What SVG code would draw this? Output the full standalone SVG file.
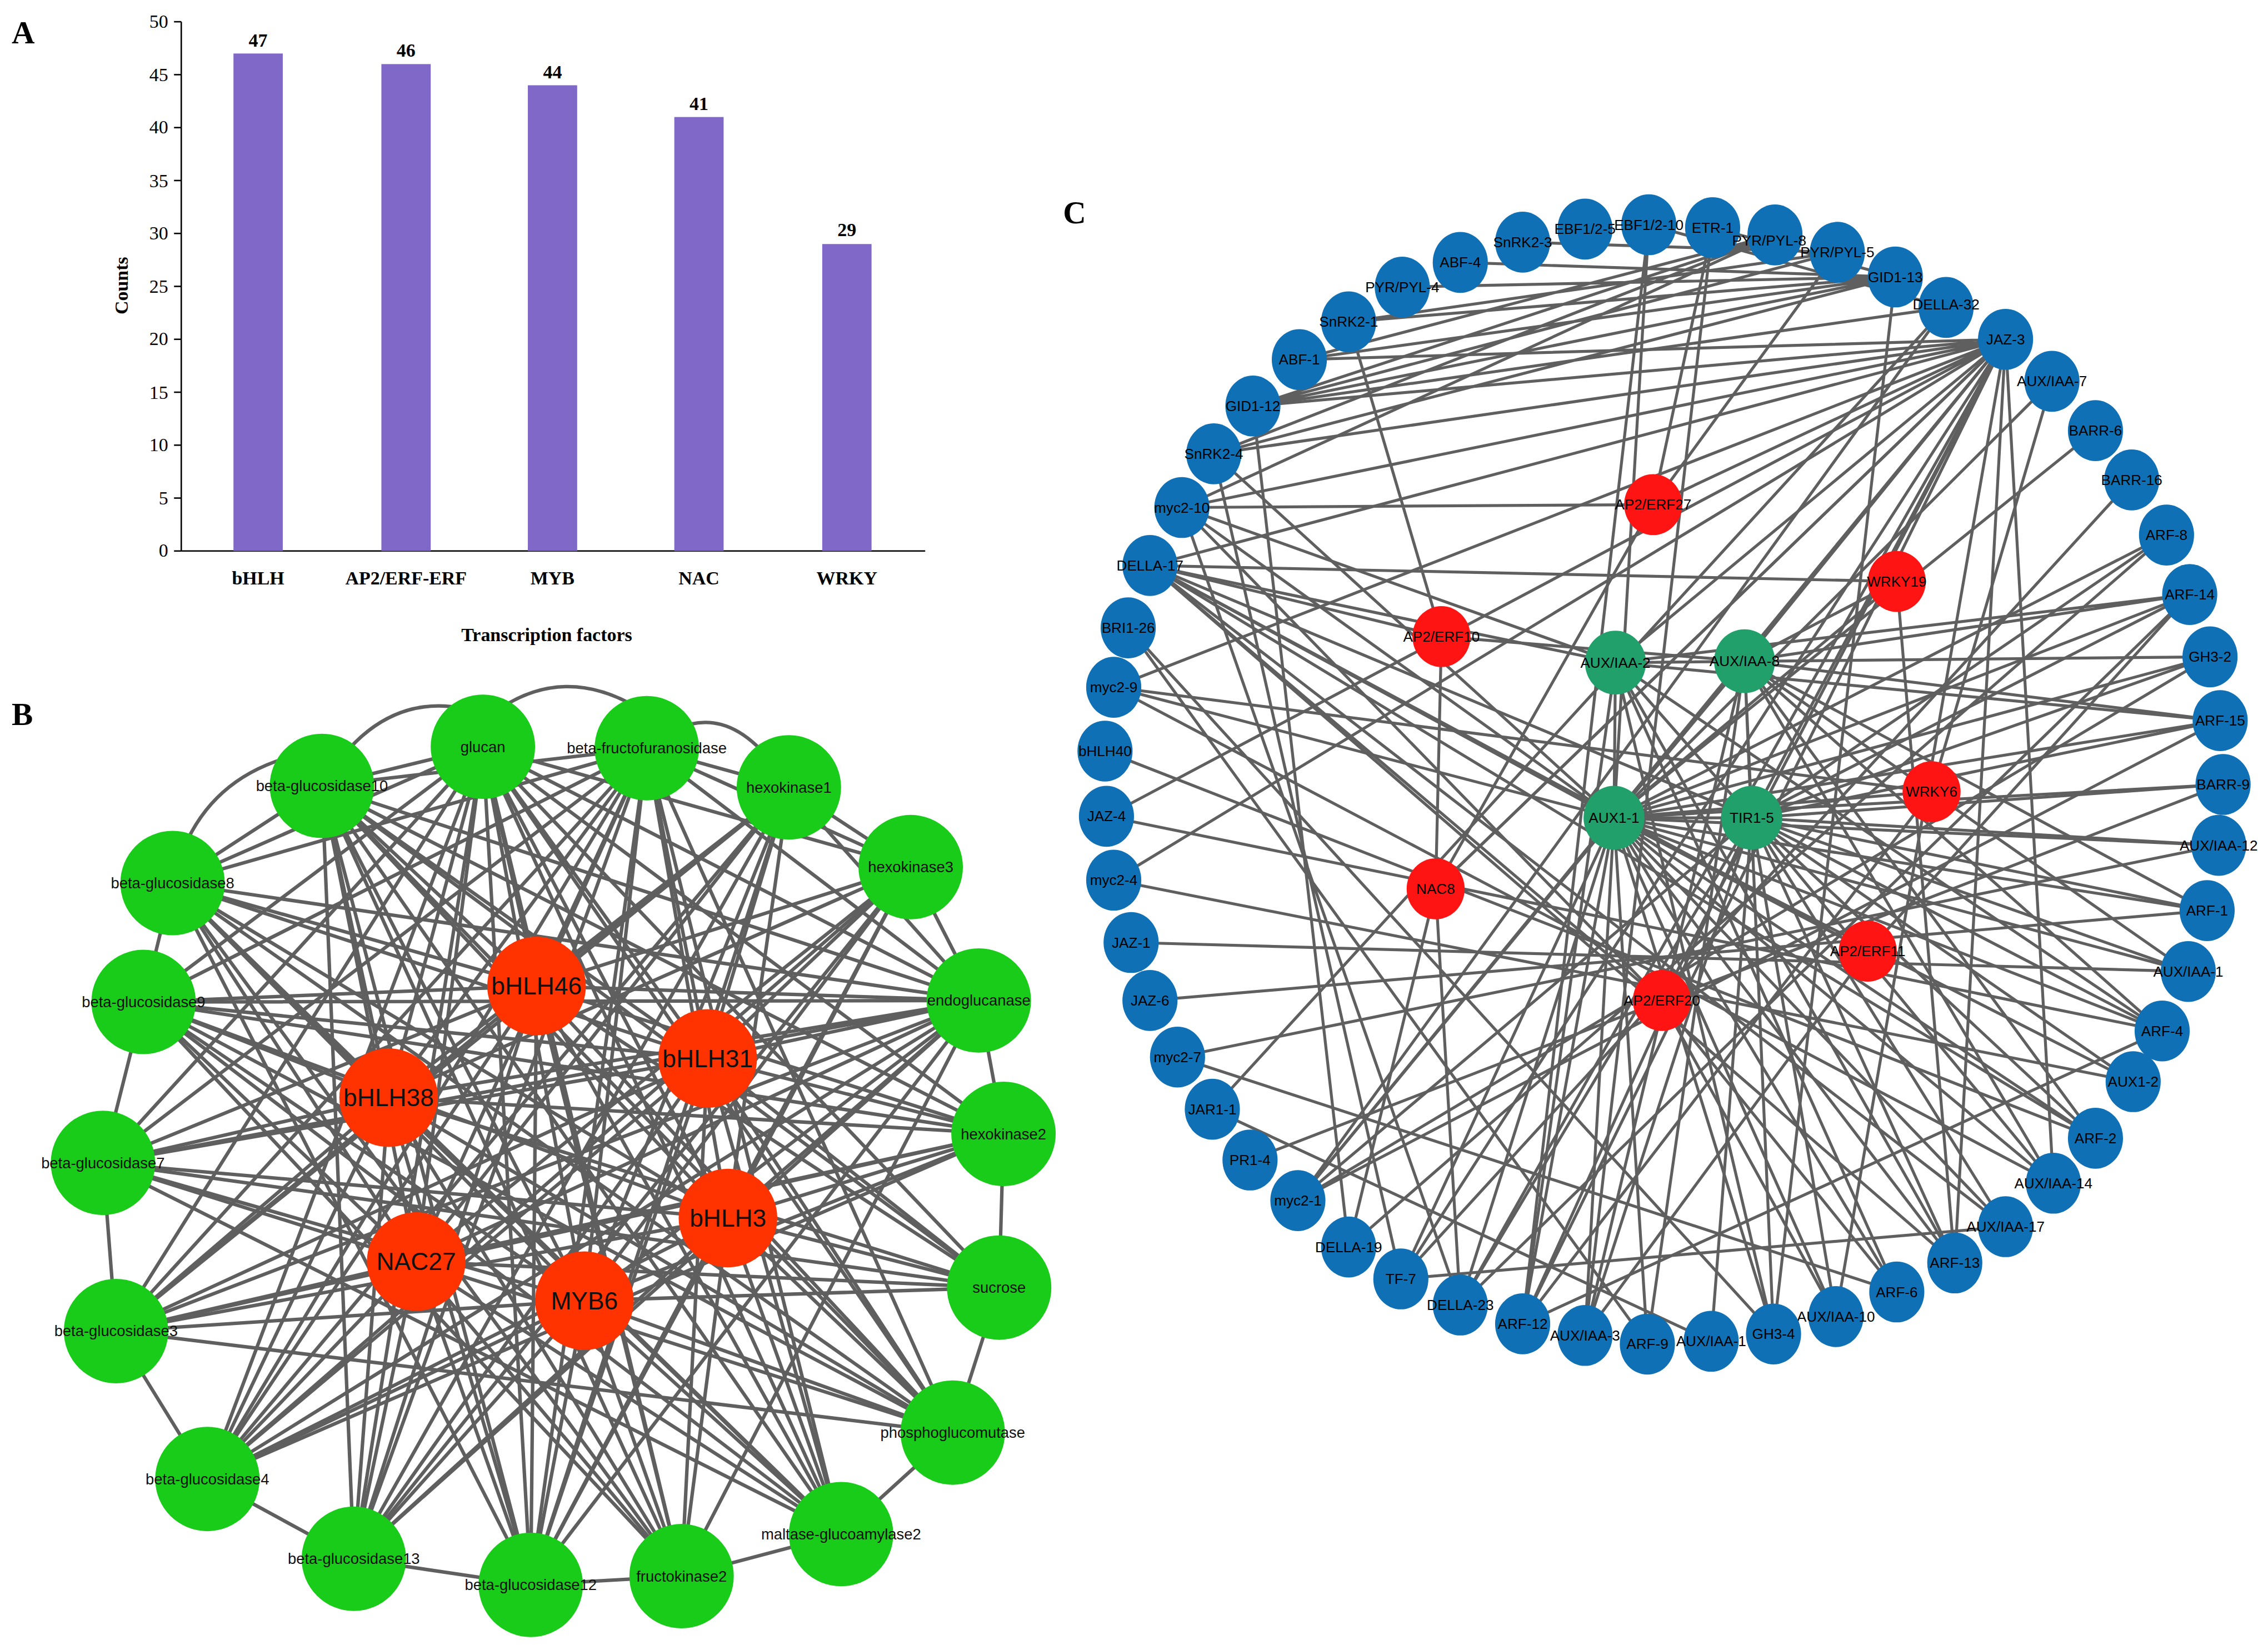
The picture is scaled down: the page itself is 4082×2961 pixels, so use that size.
<svg xmlns="http://www.w3.org/2000/svg" width="4082" height="2961" viewBox="0 0 4082 2961">
<style>
.t{font-family:"Liberation Serif",serif;font-size:13px;fill:#000}
.tb{font-family:"Liberation Serif",serif;font-size:13px;font-weight:bold;fill:#000}
.pl{font-family:"Liberation Serif",serif;font-size:22px;font-weight:bold;fill:#000}
.e{stroke:#5f5f5f;stroke-width:2.4;fill:none}
.ec{stroke:#5f5f5f;stroke-width:2;fill:none}
.gn{fill:#19cc19}
.rn{fill:#ff3300}
.bn{fill:#1070b5}
.cn{fill:#22a06b}
.cr{fill:#ff1414}
.lg{font-family:"Liberation Sans",Arial,sans-serif;font-size:10.5px;fill:#111;text-anchor:middle;dominant-baseline:central}
.lr{font-family:"Liberation Sans",Arial,sans-serif;font-size:17px;fill:#111;text-anchor:middle;dominant-baseline:central}
.lc{font-family:"Liberation Sans",Arial,sans-serif;font-size:10px;fill:#000;text-anchor:middle;dominant-baseline:central}
</style>
<rect width="4082" height="2961" fill="#fff"/>
<g transform="scale(2.61)">
<g id="panelA">
<text class="pl" x="8" y="30">A</text>
<line x1="125" y1="15" x2="125" y2="380" stroke="#000" stroke-width="1"/>
<line x1="125" y1="380" x2="638" y2="380" stroke="#000" stroke-width="1"/>
<g stroke="#000" stroke-width="1">
<line x1="120" y1="15" x2="125" y2="15"/><line x1="120" y1="51.5" x2="125" y2="51.5"/><line x1="120" y1="88" x2="125" y2="88"/><line x1="120" y1="124.5" x2="125" y2="124.5"/><line x1="120" y1="161" x2="125" y2="161"/><line x1="120" y1="197.5" x2="125" y2="197.5"/><line x1="120" y1="234" x2="125" y2="234"/><line x1="120" y1="270.5" x2="125" y2="270.5"/><line x1="120" y1="307" x2="125" y2="307"/><line x1="120" y1="343.5" x2="125" y2="343.5"/><line x1="120" y1="380" x2="125" y2="380"/>
</g>
<g class="t" text-anchor="end">
<text x="116" y="19">50</text><text x="116" y="56">45</text><text x="116" y="92">40</text><text x="116" y="129">35</text><text x="116" y="165">30</text><text x="116" y="202">25</text><text x="116" y="238">20</text><text x="116" y="275">15</text><text x="116" y="311">10</text><text x="116" y="348">5</text><text x="116" y="384">0</text>
</g>
<g fill="#8068c8">
<rect x="161" y="36.9" width="34" height="343.1"/>
<rect x="263" y="44.2" width="34" height="335.8"/>
<rect x="364" y="58.8" width="34" height="321.2"/>
<rect x="465" y="80.7" width="34" height="299.3"/>
<rect x="567" y="168.3" width="34" height="211.7"/>
</g>
<g class="tb" text-anchor="middle">
<text x="178" y="32">47</text><text x="280" y="39">46</text><text x="381" y="54">44</text><text x="482" y="76">41</text><text x="584" y="163">29</text>
<text x="178" y="403">bHLH</text><text x="280" y="403">AP2/ERF-ERF</text><text x="381" y="403">MYB</text><text x="482" y="403">NAC</text><text x="584" y="403">WRKY</text>
<text x="377" y="442">Transcription factors</text>
<text transform="translate(88,197) rotate(-90)">Counts</text>
</g>
</g>
<g id="panelB">
<text class="pl" x="8" y="500">B</text>
<g id="edgesB">
<path class="e" d="M222,542 Q265,470 333,492 M340,492 Q390,455 446,492 M119,609 Q135,540 200,522 M446,516 Q500,470 544,543"/>
<path class="e" d="M370,680 L333,515 M370,680 L446,516 M370,680 L222,542 M370,680 L544,543 M370,680 L119,609 M370,680 L628,598 M370,680 L99,691 M370,680 L675,690 M370,680 L71,802 M370,680 L692,782 M370,680 L80,918 M370,680 L689,888 M370,680 L143,1020 M370,680 L657,988 M370,680 L244,1075 M370,680 L366,1093 M370,680 L470,1087 M370,680 L580,1058"/>
<path class="e" d="M488,730 L333,515 M488,730 L446,516 M488,730 L222,542 M488,730 L544,543 M488,730 L119,609 M488,730 L628,598 M488,730 L99,691 M488,730 L675,690 M488,730 L71,802 M488,730 L692,782 M488,730 L80,918 M488,730 L689,888 M488,730 L143,1020 M488,730 L657,988 M488,730 L244,1075 M488,730 L366,1093 M488,730 L470,1087 M488,730 L580,1058"/>
<path class="e" d="M268,757 L333,515 M268,757 L446,516 M268,757 L222,542 M268,757 L544,543 M268,757 L119,609 M268,757 L628,598 M268,757 L99,691 M268,757 L675,690 M268,757 L71,802 M268,757 L692,782 M268,757 L80,918 M268,757 L689,888 M268,757 L143,1020 M268,757 L657,988 M268,757 L244,1075 M268,757 L366,1093 M268,757 L470,1087 M268,757 L580,1058"/>
<path class="e" d="M502,840 L333,515 M502,840 L446,516 M502,840 L222,542 M502,840 L544,543 M502,840 L119,609 M502,840 L628,598 M502,840 L99,691 M502,840 L675,690 M502,840 L71,802 M502,840 L692,782 M502,840 L80,918 M502,840 L689,888 M502,840 L143,1020 M502,840 L657,988 M502,840 L244,1075 M502,840 L366,1093 M502,840 L470,1087 M502,840 L580,1058"/>
<path class="e" d="M287,870 L333,515 M287,870 L446,516 M287,870 L222,542 M287,870 L544,543 M287,870 L119,609 M287,870 L628,598 M287,870 L99,691 M287,870 L675,690 M287,870 L71,802 M287,870 L692,782 M287,870 L80,918 M287,870 L689,888 M287,870 L143,1020 M287,870 L657,988 M287,870 L244,1075 M287,870 L366,1093 M287,870 L470,1087 M287,870 L580,1058"/>
<path class="e" d="M403,897 L333,515 M403,897 L446,516 M403,897 L222,542 M403,897 L544,543 M403,897 L119,609 M403,897 L628,598 M403,897 L99,691 M403,897 L675,690 M403,897 L71,802 M403,897 L692,782 M403,897 L80,918 M403,897 L689,888 M403,897 L143,1020 M403,897 L657,988 M403,897 L244,1075 M403,897 L366,1093 M403,897 L470,1087 M403,897 L580,1058"/>
<path class="e" stroke-width="3.5" d="M675,690 L333,515 M675,690 L446,516 M675,690 L222,542 M675,690 L119,609 M675,690 L99,691 M675,690 L71,802 M675,690 L80,918 M675,690 L143,1020 M675,690 L244,1075 M675,690 L366,1093 M675,690 L470,1087 M675,690 L544,543"/>
<path class="e" d="M333,515 L119,609 M333,515 L99,691 M333,515 L71,802 M333,515 L80,918 M333,515 L143,1020 M333,515 L244,1075 M333,515 L366,1093 M333,515 L470,1087 M333,515 L580,1058 M333,515 L657,988 M333,515 L689,888 M333,515 L692,782 M333,515 L628,598 M446,516 L222,542 M446,516 L119,609 M446,516 L99,691 M446,516 L71,802 M446,516 L80,918 M446,516 L143,1020 M446,516 L244,1075 M446,516 L366,1093 M446,516 L580,1058 M446,516 L657,988 M446,516 L628,598 M222,542 L244,1075 M222,542 L366,1093 M222,542 L470,1087 M222,542 L580,1058 M222,542 L657,988 M222,542 L689,888 M222,542 L692,782 M544,543 L143,1020 M544,543 L244,1075 M544,543 L80,918 M544,543 L366,1093 M119,609 L580,1058 M119,609 L657,988 M119,609 L366,1093 M99,691 L580,1058 M99,691 L657,988 M99,691 L692,782 M71,802 L580,1058 M71,802 L689,888 M80,918 L692,782 M80,918 L657,988 M143,1020 L628,598 M143,1020 L692,782 M244,1075 L628,598 M366,1093 L628,598 M470,1087 L119,609 M470,1087 L99,691"/>
<path class="e" d="M222,542 L119,609 L99,691 L71,802 L80,918 L143,1020 L244,1075 L366,1093 L470,1087 L580,1058 L657,988 L689,888 L692,782 L675,690 L628,598 L544,543 M333,515 L222,542 M446,516 L544,543"/>
</g>
<g id="nB_glucan"><circle class="gn" cx="333" cy="515" r="36"/><text class="lg" x="333" y="515">glucan</text></g>
<g id="nB_bfruct"><circle class="gn" cx="446" cy="516" r="36"/><text class="lg" x="446" y="516">beta-fructofuranosidase</text></g>
<g id="nB_bg10"><circle class="gn" cx="222" cy="542" r="36"/><text class="lg" x="222" y="542">beta-glucosidase10</text></g>
<g id="nB_hk1"><circle class="gn" cx="544" cy="543" r="36"/><text class="lg" x="544" y="543">hexokinase1</text></g>
<g id="nB_bg8"><circle class="gn" cx="119" cy="609" r="36"/><text class="lg" x="119" y="609">beta-glucosidase8</text></g>
<g id="nB_hk3"><circle class="gn" cx="628" cy="598" r="36"/><text class="lg" x="628" y="598">hexokinase3</text></g>
<g id="nB_bg9"><circle class="gn" cx="99" cy="691" r="36"/><text class="lg" x="99" y="691">beta-glucosidase9</text></g>
<g id="nB_endo"><circle class="gn" cx="675" cy="690" r="36"/><text class="lg" x="675" y="690">endoglucanase</text></g>
<g id="nB_bg7"><circle class="gn" cx="71" cy="802" r="36"/><text class="lg" x="71" y="802">beta-glucosidase7</text></g>
<g id="nB_hk2"><circle class="gn" cx="692" cy="782" r="36"/><text class="lg" x="692" y="782">hexokinase2</text></g>
<g id="nB_bg3"><circle class="gn" cx="80" cy="918" r="36"/><text class="lg" x="80" y="918">beta-glucosidase3</text></g>
<g id="nB_sucrose"><circle class="gn" cx="689" cy="888" r="36"/><text class="lg" x="689" y="888">sucrose</text></g>
<g id="nB_bg4"><circle class="gn" cx="143" cy="1020" r="36"/><text class="lg" x="143" y="1020">beta-glucosidase4</text></g>
<g id="nB_pgm"><circle class="gn" cx="657" cy="988" r="36"/><text class="lg" x="657" y="988">phosphoglucomutase</text></g>
<g id="nB_bg13"><circle class="gn" cx="244" cy="1075" r="36"/><text class="lg" x="244" y="1075">beta-glucosidase13</text></g>
<g id="nB_bg12"><circle class="gn" cx="366" cy="1093" r="36"/><text class="lg" x="366" y="1093">beta-glucosidase12</text></g>
<g id="nB_fk2"><circle class="gn" cx="470" cy="1087" r="36"/><text class="lg" x="470" y="1087">fructokinase2</text></g>
<g id="nB_mga2"><circle class="gn" cx="580" cy="1058" r="36"/><text class="lg" x="580" y="1058">maltase-glucoamylase2</text></g>
<g id="nB_bHLH46"><circle class="rn" cx="370" cy="680" r="34"/><text class="lr" x="370" y="680">bHLH46</text></g>
<g id="nB_bHLH31"><circle class="rn" cx="488" cy="730" r="34"/><text class="lr" x="488" y="730">bHLH31</text></g>
<g id="nB_bHLH38"><circle class="rn" cx="268" cy="757" r="34"/><text class="lr" x="268" y="757">bHLH38</text></g>
<g id="nB_bHLH3"><circle class="rn" cx="502" cy="840" r="34"/><text class="lr" x="502" y="840">bHLH3</text></g>
<g id="nB_NAC27"><circle class="rn" cx="287" cy="870" r="34"/><text class="lr" x="287" y="870">NAC27</text></g>
<g id="nB_MYB6"><circle class="rn" cx="403" cy="897" r="34"/><text class="lr" x="403" y="897">MYB6</text></g>
</g>
<g id="panelC">
<text class="pl" x="733" y="154">C</text>
<g id="edgesC">
<path class="ec" d="M1113,564 L1383,234 M1113,564 L1415,263 M1113,564 L1445,297 M1113,564 L1494,369 M1113,564 L1510,410 M1113,564 L1524,453 M1113,564 L1531,497 M1113,564 L1533,541 M1113,564 L1530,583 M1113,564 L1522,628 M1113,564 L1509,670 M1113,564 L1491,711 M1113,564 L1471,746 M1113,564 L1445,785 M1113,564 L1416,816 M1113,564 L1383,846 M1113,564 L1348,871 M1113,564 L1308,891 M1113,564 L1266,908 M1113,564 L1223,920 M1113,564 L1136,927 M1113,564 L1093,921 M1113,564 L1050,913 M1113,564 L1007,900 M1113,564 L966,882 M1113,564 L895,828 M1113,564 L793,390 M1113,564 L837,313 M1113,564 L815,350 M1113,564 L768,474"/>
<path class="ec" d="M1208,564 L1383,234 M1208,564 L1494,369 M1208,564 L1510,410 M1208,564 L1524,453 M1208,564 L1531,497 M1208,564 L1533,541 M1208,564 L1530,583 M1208,564 L1522,628 M1208,564 L1509,670 M1208,564 L1491,711 M1208,564 L1471,746 M1208,564 L1445,785 M1208,564 L1416,816 M1208,564 L1383,846 M1208,564 L1348,871 M1208,564 L1266,908 M1208,564 L1180,925 M1208,564 L1093,921 M1208,564 L1050,913 M1208,564 L1007,900 M1208,564 L895,828 M1208,564 L793,390 M1208,564 L1113,564"/>
<path class="ec" d="M1114,457 L1383,234 M1114,457 L1510,410 M1114,457 L1524,453 M1114,457 L1531,497 M1114,457 L1348,871 M1114,457 L1308,891 M1114,457 L1050,913 M1114,457 L793,390 M1114,457 L815,350 M1114,457 L1113,564 M1114,457 L1208,564 M1114,457 L1223,920 M1114,457 L1491,711 M1203,456 L1383,234 M1203,456 L1510,410 M1203,456 L1531,497 M1203,456 L1522,628 M1203,456 L1491,711 M1203,456 L1445,785 M1203,456 L1416,816 M1203,456 L1223,920 M1203,456 L1093,921 M1203,456 L1113,564 M1203,456 L1208,564 M1203,456 L1136,927 M1203,456 L1509,670"/>
<path class="ec" d="M1383,234 L815,350 M1383,234 L837,313 M1383,234 L864,280 M1383,234 L793,390 M1383,234 L768,474 M1383,234 L763,563 M1383,234 L768,607 M1383,234 L1140,348 M1383,234 L895,828 M1383,234 L966,882 M1383,234 L896,248 M1383,234 L990,613 M1383,234 L1007,900 M1383,234 L1050,913 M1383,234 L1146,690 M1383,234 L1266,908 M1383,234 L1348,871 M1383,234 L1416,816"/>
<path class="ec" d="M1307,191 L896,248 M1307,191 L930,222 M1307,191 L967,198 M1307,191 L837,313 M1307,191 L864,280 M1307,191 L1007,181 M1224,162 L896,248 M1224,162 L837,313 M1224,162 L864,280 M1267,174 L930,222 M1267,174 L864,280 M1181,157 L1307,191 M1137,155 L1342,212 M1050,167 L1267,174 M1342,212 L864,280 M1342,212 L895,828 M1342,212 L836,765 M1137,155 L1113,564 M1181,157 L1093,921 M1137,155 L1050,913 M1267,174 L1140,348 M1307,191 L1223,920 M1224,162 L815,350"/>
<path class="ec" d="M1140,348 L815,350 M1140,348 L1181,157 M1140,348 L990,613 M994,439 L930,222 M994,439 L793,390 M994,439 L1203,456 M994,439 L990,613 M990,613 L1383,234 M990,613 L1007,900 M990,613 L930,860 M1146,690 L815,350 M1146,690 L793,390 M1146,690 L1308,891 M1146,690 L1266,908 M1308,401 L793,390 M1308,401 L1348,871 M1308,401 L1203,456 M1308,401 L1113,564 M1332,546 L1113,564 M1332,546 L768,474 M1332,546 L1050,913 M1332,546 L1415,263 M1288,656 L1093,921 M1288,656 L1510,410 M1288,656 L793,390 M1288,656 L1113,564"/>
<path class="ec" d="M793,390 L1348,871 M793,390 L1445,785 M793,390 L1383,846 M768,474 L1416,816 M778,433 L1223,920 M762,518 L1445,785 M763,563 L1491,711 M768,607 L1471,746 M780,650 L1509,670 M793,690 L1522,628 M812,729 L1530,583 M862,800 L1533,541 M895,828 L1531,497 M895,828 L1524,453 M930,860 L1494,369 M966,882 L1470,331 M1007,900 L1510,410 M836,765 L1180,925 M812,729 L1308,891 M778,433 L1136,927 M815,350 L1007,900 M837,313 L966,882 M864,280 L930,860 M1050,913 L1491,711 M966,882 L1383,846"/>
</g>
<g id="nC_EBF1_2_10"><ellipse class="bn" cx="1137" cy="155" rx="19" ry="21"/><text class="lc" x="1137" y="155">EBF1/2-10</text></g>
<g id="nC_ETR_1"><ellipse class="bn" cx="1181" cy="157" rx="19" ry="21"/><text class="lc" x="1181" y="157">ETR-1</text></g>
<g id="nC_PYR_PYL_8"><ellipse class="bn" cx="1224" cy="162" rx="19" ry="21"/><text class="lc" x="1220" y="166">PYR/PYL-8</text></g>
<g id="nC_PYR_PYL_5"><ellipse class="bn" cx="1267" cy="174" rx="19" ry="21"/><text class="lc" x="1267" y="174">PYR/PYL-5</text></g>
<g id="nC_GID1_13"><ellipse class="bn" cx="1307" cy="191" rx="19" ry="21"/><text class="lc" x="1307" y="191">GID1-13</text></g>
<g id="nC_DELLA_32"><ellipse class="bn" cx="1342" cy="212" rx="19" ry="21"/><text class="lc" x="1342" y="210">DELLA-32</text></g>
<g id="nC_JAZ_3"><ellipse class="bn" cx="1383" cy="234" rx="19" ry="21"/><text class="lc" x="1383" y="234">JAZ-3</text></g>
<g id="nC_AUX_IAA_7"><ellipse class="bn" cx="1415" cy="263" rx="19" ry="21"/><text class="lc" x="1415" y="263">AUX/IAA-7</text></g>
<g id="nC_BARR_6"><ellipse class="bn" cx="1445" cy="297" rx="19" ry="21"/><text class="lc" x="1445" y="297">BARR-6</text></g>
<g id="nC_BARR_16"><ellipse class="bn" cx="1470" cy="331" rx="19" ry="21"/><text class="lc" x="1470" y="331">BARR-16</text></g>
<g id="nC_ARF_8"><ellipse class="bn" cx="1494" cy="369" rx="19" ry="21"/><text class="lc" x="1494" y="369">ARF-8</text></g>
<g id="nC_ARF_14"><ellipse class="bn" cx="1510" cy="410" rx="19" ry="21"/><text class="lc" x="1510" y="410">ARF-14</text></g>
<g id="nC_GH3_2"><ellipse class="bn" cx="1524" cy="453" rx="19" ry="21"/><text class="lc" x="1524" y="453">GH3-2</text></g>
<g id="nC_ARF_15"><ellipse class="bn" cx="1531" cy="497" rx="19" ry="21"/><text class="lc" x="1531" y="497">ARF-15</text></g>
<g id="nC_BARR_9"><ellipse class="bn" cx="1533" cy="541" rx="19" ry="21"/><text class="lc" x="1533" y="541">BARR-9</text></g>
<g id="nC_AUX_IAA_12"><ellipse class="bn" cx="1530" cy="583" rx="19" ry="21"/><text class="lc" x="1530" y="583">AUX/IAA-12</text></g>
<g id="nC_ARF_1"><ellipse class="bn" cx="1522" cy="628" rx="19" ry="21"/><text class="lc" x="1522" y="628">ARF-1</text></g>
<g id="nC_AUX_IAA_1"><ellipse class="bn" cx="1509" cy="670" rx="19" ry="21"/><text class="lc" x="1509" y="670">AUX/IAA-1</text></g>
<g id="nC_ARF_4"><ellipse class="bn" cx="1491" cy="711" rx="19" ry="21"/><text class="lc" x="1491" y="711">ARF-4</text></g>
<g id="nC_AUX1_2"><ellipse class="bn" cx="1471" cy="746" rx="19" ry="21"/><text class="lc" x="1471" y="746">AUX1-2</text></g>
<g id="nC_ARF_2"><ellipse class="bn" cx="1445" cy="785" rx="19" ry="21"/><text class="lc" x="1445" y="785">ARF-2</text></g>
<g id="nC_AUX_IAA_14"><ellipse class="bn" cx="1416" cy="816" rx="19" ry="21"/><text class="lc" x="1416" y="816">AUX/IAA-14</text></g>
<g id="nC_AUX_IAA_17"><ellipse class="bn" cx="1383" cy="846" rx="19" ry="21"/><text class="lc" x="1383" y="846">AUX/IAA-17</text></g>
<g id="nC_ARF_13"><ellipse class="bn" cx="1348" cy="871" rx="19" ry="21"/><text class="lc" x="1348" y="871">ARF-13</text></g>
<g id="nC_ARF_6"><ellipse class="bn" cx="1308" cy="891" rx="19" ry="21"/><text class="lc" x="1308" y="891">ARF-6</text></g>
<g id="nC_AUX_IAA_10"><ellipse class="bn" cx="1266" cy="908" rx="19" ry="21"/><text class="lc" x="1266" y="908">AUX/IAA-10</text></g>
<g id="nC_GH3_4"><ellipse class="bn" cx="1223" cy="920" rx="19" ry="21"/><text class="lc" x="1223" y="920">GH3-4</text></g>
<g id="nC_AUX_IAA_1b"><ellipse class="bn" cx="1180" cy="925" rx="19" ry="21"/><text class="lc" x="1180" y="925">AUX/IAA-1</text></g>
<g id="nC_ARF_9"><ellipse class="bn" cx="1136" cy="927" rx="19" ry="21"/><text class="lc" x="1136" y="927">ARF-9</text></g>
<g id="nC_AUX_IAA_3"><ellipse class="bn" cx="1093" cy="921" rx="19" ry="21"/><text class="lc" x="1093" y="921">AUX/IAA-3</text></g>
<g id="nC_ARF_12"><ellipse class="bn" cx="1050" cy="913" rx="19" ry="21"/><text class="lc" x="1050" y="913">ARF-12</text></g>
<g id="nC_DELLA_23"><ellipse class="bn" cx="1007" cy="900" rx="19" ry="21"/><text class="lc" x="1007" y="900">DELLA-23</text></g>
<g id="nC_TF_7"><ellipse class="bn" cx="966" cy="882" rx="19" ry="21"/><text class="lc" x="966" y="882">TF-7</text></g>
<g id="nC_DELLA_19"><ellipse class="bn" cx="930" cy="860" rx="19" ry="21"/><text class="lc" x="930" y="860">DELLA-19</text></g>
<g id="nC_myc2_1"><ellipse class="bn" cx="895" cy="828" rx="19" ry="21"/><text class="lc" x="895" y="828">myc2-1</text></g>
<g id="nC_PR1_4"><ellipse class="bn" cx="862" cy="800" rx="19" ry="21"/><text class="lc" x="862" y="800">PR1-4</text></g>
<g id="nC_JAR1_1"><ellipse class="bn" cx="836" cy="765" rx="19" ry="21"/><text class="lc" x="836" y="765">JAR1-1</text></g>
<g id="nC_myc2_7"><ellipse class="bn" cx="812" cy="729" rx="19" ry="21"/><text class="lc" x="812" y="729">myc2-7</text></g>
<g id="nC_JAZ_6"><ellipse class="bn" cx="793" cy="690" rx="19" ry="21"/><text class="lc" x="793" y="690">JAZ-6</text></g>
<g id="nC_JAZ_1"><ellipse class="bn" cx="780" cy="650" rx="19" ry="21"/><text class="lc" x="780" y="650">JAZ-1</text></g>
<g id="nC_myc2_4"><ellipse class="bn" cx="768" cy="607" rx="19" ry="21"/><text class="lc" x="768" y="607">myc2-4</text></g>
<g id="nC_JAZ_4"><ellipse class="bn" cx="763" cy="563" rx="19" ry="21"/><text class="lc" x="763" y="563">JAZ-4</text></g>
<g id="nC_bHLH40"><ellipse class="bn" cx="762" cy="518" rx="19" ry="21"/><text class="lc" x="762" y="518">bHLH40</text></g>
<g id="nC_myc2_9"><ellipse class="bn" cx="768" cy="474" rx="19" ry="21"/><text class="lc" x="768" y="474">myc2-9</text></g>
<g id="nC_BRI1_26"><ellipse class="bn" cx="778" cy="433" rx="19" ry="21"/><text class="lc" x="778" y="433">BRI1-26</text></g>
<g id="nC_DELLA_17"><ellipse class="bn" cx="793" cy="390" rx="19" ry="21"/><text class="lc" x="793" y="390">DELLA-17</text></g>
<g id="nC_myc2_10"><ellipse class="bn" cx="815" cy="350" rx="19" ry="21"/><text class="lc" x="815" y="350">myc2-10</text></g>
<g id="nC_SnRK2_4"><ellipse class="bn" cx="837" cy="313" rx="19" ry="21"/><text class="lc" x="837" y="313">SnRK2-4</text></g>
<g id="nC_GID1_12"><ellipse class="bn" cx="864" cy="280" rx="19" ry="21"/><text class="lc" x="864" y="280">GID1-12</text></g>
<g id="nC_ABF_1"><ellipse class="bn" cx="896" cy="248" rx="19" ry="21"/><text class="lc" x="896" y="248">ABF-1</text></g>
<g id="nC_SnRK2_1"><ellipse class="bn" cx="930" cy="222" rx="19" ry="21"/><text class="lc" x="930" y="222">SnRK2-1</text></g>
<g id="nC_PYR_PYL_4"><ellipse class="bn" cx="967" cy="198" rx="19" ry="21"/><text class="lc" x="967" y="198">PYR/PYL-4</text></g>
<g id="nC_ABF_4"><ellipse class="bn" cx="1007" cy="181" rx="19" ry="21"/><text class="lc" x="1007" y="181">ABF-4</text></g>
<g id="nC_SnRK2_3"><ellipse class="bn" cx="1050" cy="167" rx="19" ry="21"/><text class="lc" x="1050" y="167">SnRK2-3</text></g>
<g id="nC_EBF1_2_5"><ellipse class="bn" cx="1093" cy="158" rx="19" ry="21"/><text class="lc" x="1093" y="158">EBF1/2-5</text></g>
<g id="nC_AP2_ERF27"><ellipse class="cr" cx="1140" cy="348" rx="20" ry="21"/><text class="lc" x="1140" y="348">AP2/ERF27</text></g>
<g id="nC_WRKY19"><ellipse class="cr" cx="1308" cy="401" rx="20" ry="21"/><text class="lc" x="1308" y="401">WRKY19</text></g>
<g id="nC_AP2_ERF10"><ellipse class="cr" cx="994" cy="439" rx="20" ry="21"/><text class="lc" x="994" y="439">AP2/ERF10</text></g>
<g id="nC_AUX_IAA_2"><ellipse class="cn" cx="1114" cy="457" rx="21" ry="22"/><text class="lc" x="1114" y="457">AUX/IAA-2</text></g>
<g id="nC_AUX_IAA_8"><ellipse class="cn" cx="1203" cy="456" rx="21" ry="22"/><text class="lc" x="1203" y="456">AUX/IAA-8</text></g>
<g id="nC_WRKY6"><ellipse class="cr" cx="1332" cy="546" rx="20" ry="21"/><text class="lc" x="1332" y="546">WRKY6</text></g>
<g id="nC_AUX1_1"><ellipse class="cn" cx="1113" cy="564" rx="21" ry="22"/><text class="lc" x="1113" y="564">AUX1-1</text></g>
<g id="nC_TIR1_5"><ellipse class="cn" cx="1208" cy="564" rx="21" ry="22"/><text class="lc" x="1208" y="564">TIR1-5</text></g>
<g id="nC_NAC8"><ellipse class="cr" cx="990" cy="613" rx="20" ry="21"/><text class="lc" x="990" y="613">NAC8</text></g>
<g id="nC_AP2_ERF11"><ellipse class="cr" cx="1288" cy="656" rx="20" ry="21"/><text class="lc" x="1288" y="656">AP2/ERF11</text></g>
<g id="nC_AP2_ERF20"><ellipse class="cr" cx="1146" cy="690" rx="20" ry="21"/><text class="lc" x="1146" y="690">AP2/ERF20</text></g>
</g>
</g>
</svg>
